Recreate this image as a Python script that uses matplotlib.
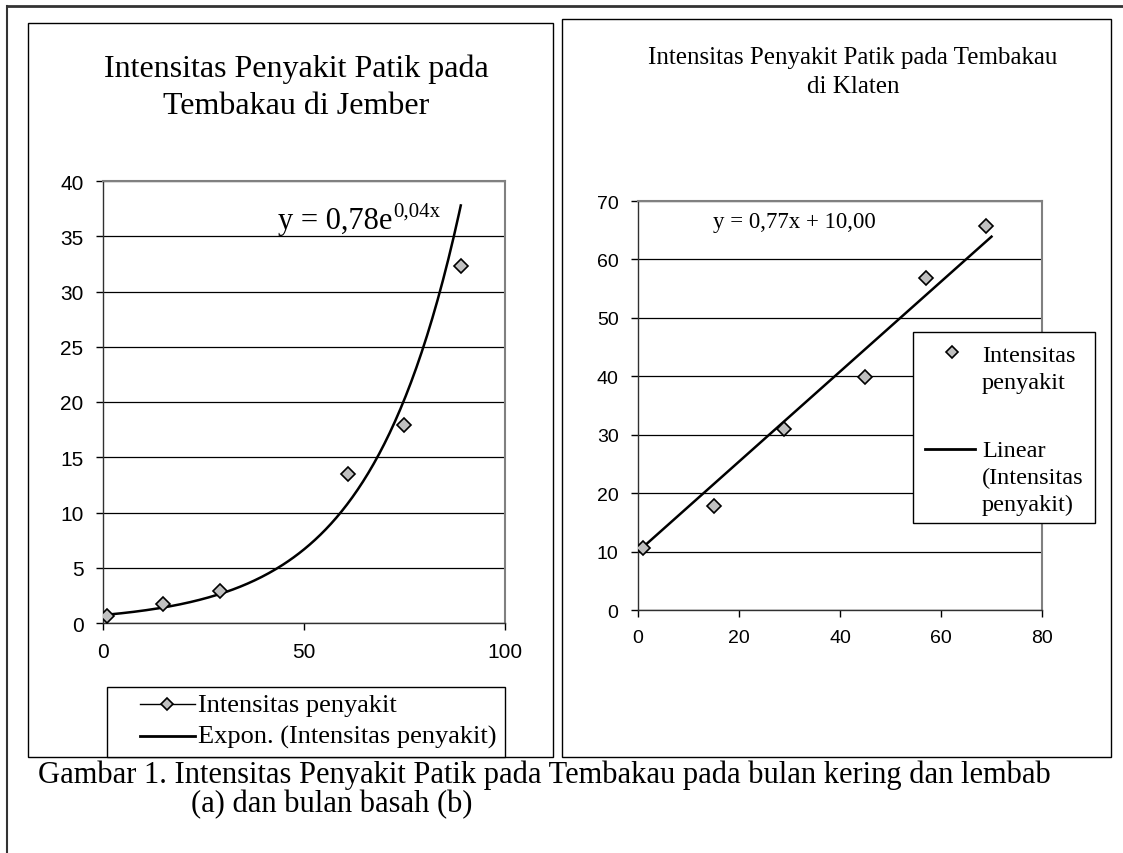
import matplotlib
matplotlib.use("Agg")
import matplotlib.pyplot as plt
from matplotlib.lines import Line2D
from matplotlib.patches import Rectangle
import numpy as np

# data (a) Jember
x_jember = [1, 15, 29, 61, 75, 89]
y_jember = [0.65, 1.7, 2.9, 13.5, 17.9, 32.3]

# exponential trendline as drawn (label on chart is rounded)
exp_a = 0.72
exp_b = 0.0445

# data (b) Klaten
x_klaten = [1, 15, 29, 45, 57, 69]
y_klaten = [10.6, 17.8, 31.0, 39.9, 56.8, 65.7]

# linear trendline, as printed on the chart
lin_slope = 0.77
lin_icpt = 10.00

W, H = 1123, 854
SERIF = "Liberation Serif"
SANS = "Liberation Sans"
GRAY = "#c0c0c0"


def fx(px):
    return px / float(W)


def fy(py):
    return 1.0 - py / float(H)


def box(fig, x0, y0, x1, y1, lw=1.0, ec="black", fc="none", z=1):
    r = Rectangle((fx(x0), fy(y1)), fx(x1) - fx(x0), fy(y0) - fy(y1),
                  transform=fig.transFigure, lw=lw, ec=ec, fc=fc, zorder=z)
    fig.add_artist(r)


def hline(fig, x0, x1, y, lw):
    ln = Line2D([fx(x0), fx(x1)], [fy(y), fy(y)], transform=fig.transFigure,
                color="black", lw=lw, zorder=5)
    fig.add_artist(ln)


def diamond(fig, x, y, ms):
    d = Line2D([fx(x)], [fy(y)], transform=fig.transFigure, linestyle="none",
               marker="D", markersize=ms, markerfacecolor=GRAY,
               markeredgecolor="black", markeredgewidth=1.2, zorder=6)
    fig.add_artist(d)


def txt(fig, x, y, s, size, family=SERIF, ha="left"):
    return fig.text(fx(x), fy(y), s, fontfamily=family, fontsize=size,
                    ha=ha, va="baseline", zorder=6)


def style_axes(ax, fs):
    for s in ax.spines.values():
        s.set_color("#808080")
        s.set_linewidth(1.5)
    ax.spines["left"].set_color("#303030")
    ax.spines["left"].set_linewidth(1.0)
    ax.spines["bottom"].set_color("#303030")
    ax.spines["bottom"].set_linewidth(1.0)
    ax.grid(axis="y", color="black", linewidth=0.9)
    ax.set_axisbelow(True)
    ax.tick_params(direction="out", length=5, width=1, labelsize=fs, pad=9)
    for lab in ax.get_xticklabels() + ax.get_yticklabels():
        lab.set_fontfamily(SANS)


fig = plt.figure(figsize=(W / 100.0, H / 100.0), dpi=100)

# outer frame lines
fig.add_artist(Line2D([fx(7), 1.0], [fy(7), fy(7)], transform=fig.transFigure,
                      color="#333333", lw=2))
fig.add_artist(Line2D([fx(7), fx(7)], [fy(7), 0.0], transform=fig.transFigure,
                      color="#333333", lw=1.5))

# panel boxes
box(fig, 28, 24, 553, 758)
box(fig, 562, 20, 1111, 758)

# ---------- (a) Jember ----------
ax1 = fig.add_axes([fx(103), fy(624), fx(505) - fx(103), fy(182) - fy(624)])
ax1.set_xlim(0, 100)
ax1.set_ylim(0, 40)
ax1.set_xticks([0, 50, 100])
ax1.set_yticks(range(0, 41, 5))
style_axes(ax1, 15)

ax1.plot(x_jember, y_jember, linestyle="none", marker="D", markersize=7.5,
         markerfacecolor=GRAY, markeredgecolor="black", markeredgewidth=1.2,
         zorder=4)

xs = np.linspace(x_jember[0], x_jember[-1], 200)
ax1.plot(xs, exp_a * np.exp(exp_b * xs), color="black", lw=1.8, zorder=3)

eq = txt(fig, 278, 229, "y = 0,78e", 22)

txt(fig, 296, 77, "Intensitas Penyakit Patik pada", 23, ha="center")
txt(fig, 296, 114, "Tembakau di Jember", 23, ha="center")

# legend (a)
box(fig, 107, 688, 505, 758, fc="white", z=1)
hline(fig, 140, 195, 705, 1.0)
diamond(fig, 167, 705, 6)
txt(fig, 198, 712, "Intensitas penyakit", 19)
hline(fig, 140, 195, 737, 2.0)
txt(fig, 198, 744, "Expon. (Intensitas penyakit)", 19)

# ---------- (b) Klaten ----------
ax2 = fig.add_axes([fx(638), fy(611), fx(1042) - fx(638), fy(202) - fy(611)])
ax2.set_xlim(0, 80)
ax2.set_ylim(0, 70)
ax2.set_xticks(range(0, 81, 20))
ax2.set_yticks(range(0, 71, 10))
style_axes(ax2, 14)

ax2.plot(x_klaten, y_klaten, linestyle="none", marker="D", markersize=7.5,
         markerfacecolor=GRAY, markeredgecolor="black", markeredgewidth=1.2,
         zorder=4)
xl = np.array([0.5, 70.0])
ax2.plot(xl, lin_slope * xl + lin_icpt, color="black", lw=1.8, zorder=3)

txt(fig, 713, 228, "y = 0,77x + 10,00", 16.5)

txt(fig, 853, 64, "Intensitas Penyakit Patik pada Tembakau", 18, ha="center")
txt(fig, 853, 93, "di Klaten", 18, ha="center")

# legend (b)
box(fig, 913, 333, 1095, 524, fc="white", z=2)
diamond(fig, 952, 353, 6)
txt(fig, 982, 362, "Intensitas", 17.5)
txt(fig, 982, 389, "penyakit", 17.5)
hline(fig, 925, 975, 450, 2.0)
txt(fig, 982, 457, "Linear", 17.5)
txt(fig, 982, 484, "(Intensitas", 17.5)
txt(fig, 982, 511, "penyakit)", 17.5)

# caption
txt(fig, 38, 783, "Gambar 1. Intensitas Penyakit Patik pada Tembakau "
    "pada bulan kering dan lembab", 22)
txt(fig, 191, 812, "(a) dan bulan basah (b)", 22)

# superscript of the exponential equation, placed after the main text
fig.canvas.draw()
bb = eq.get_window_extent()
txt(fig, bb.x1 + 1, 217, "0,04x", 15)

fig.savefig("out.png", dpi=100)
